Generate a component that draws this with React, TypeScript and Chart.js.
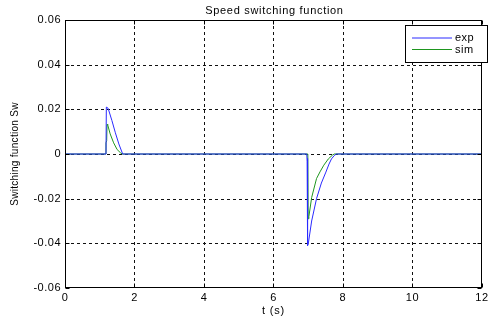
import React, { useEffect, useRef } from "react";
import { Chart, registerables } from "chart.js";

Chart.register(...registerables);

const titleText = "Speed switching function";
const xTitle = "t (s)";
const yTitle = "Switching function Sw";
const seriesNames = ["exp", "sim"];

const xTicks = [0, 2, 4, 6, 8, 10, 12];
const yTicks = [-0.06, -0.04, -0.02, 0, 0.02, 0.04, 0.06];

const expT = [0, 1.18, 1.19, 1.24, 1.35, 1.45, 1.55, 1.66, 6.96, 6.97, 6.98, 6.985, 7.0, 7.1, 7.24, 7.38, 7.51, 7.6, 7.67, 7.75, 7.81, 12];
const expV = [0, 0, 0.021, 0.0205, 0.015, 0.0095, 0.0045, 0, 0, -0.0035, -0.002, -0.041, -0.0405, -0.03, -0.02, -0.013, -0.0081, -0.0045, -0.0022, -0.0007, 0, 0];

const simT = [0, 1.17, 1.18, 1.2, 1.21, 1.23, 1.3, 1.4, 1.5, 1.6, 1.65, 6.99, 7.0, 7.02, 7.1, 7.24, 7.34, 7.45, 7.58, 7.7, 7.75, 12];
const simV = [0, 0, 0.005, 0.006, 0.0133, 0.013, 0.009, 0.005, 0.002, 0.0005, 0, 0, -0.029, -0.028, -0.0195, -0.011, -0.008, -0.005, -0.0022, -0.0005, 0, 0];

const BLUE = "#2a2aff";
const GREEN = "#1e961e";
const FONT = "'Liberation Sans', Arial, sans-serif";

const fmt = (v: number) => {
  const r = Math.round(v * 100) / 100;
  return r === 0 ? "0" : r.toFixed(2);
};

const decor = {
  id: "decor",
  beforeDraw(chart: any) {
    (chart.ctx as any).letterSpacing = "0.5px";
  },
  beforeDatasetsDraw(chart: any) {
    const { ctx, chartArea: a, scales } = chart;
    const xs = scales.x, ys = scales.y;
    ctx.save();
    ctx.strokeStyle = "#111";
    ctx.lineWidth = 1;
    ctx.setLineDash([3, 3]);
    xTicks.forEach((t) => {
      if (t === xTicks[0] || t === xTicks[xTicks.length - 1]) return;
      const x = Math.round(xs.getPixelForValue(t)) + 0.5;
      ctx.beginPath();
      ctx.moveTo(x, a.top);
      ctx.lineTo(x, a.bottom);
      ctx.stroke();
    });
    yTicks.forEach((t) => {
      if (t === yTicks[0] || t === yTicks[yTicks.length - 1]) return;
      const y = Math.round(ys.getPixelForValue(t)) + 0.5;
      ctx.beginPath();
      ctx.moveTo(a.left, y);
      ctx.lineTo(a.right, y);
      ctx.stroke();
    });
    ctx.restore();
  },
  afterDraw(chart: any) {
    const { ctx, chartArea: a, scales } = chart;
    const xs = scales.x, ys = scales.y;
    ctx.save();
    ctx.setLineDash([]);
    ctx.strokeStyle = "#000";
    ctx.lineWidth = 1;
    const L = Math.round(a.left) + 0.5, R = Math.round(a.right) - 0.5;
    const T = Math.round(a.top) + 0.5, B = Math.round(a.bottom) - 0.5;
    ctx.strokeRect(L, T, R - L, B - T);
    xTicks.forEach((t) => {
      const x = Math.round(xs.getPixelForValue(t)) + 0.5;
      ctx.beginPath();
      ctx.moveTo(x, B); ctx.lineTo(x, B - 4);
      ctx.moveTo(x, T); ctx.lineTo(x, T + 4);
      ctx.stroke();
    });
    yTicks.forEach((t) => {
      const y = Math.round(ys.getPixelForValue(t)) + 0.5;
      ctx.beginPath();
      ctx.moveTo(L, y); ctx.lineTo(L + 4, y);
      ctx.moveTo(R, y); ctx.lineTo(R - 4, y);
      ctx.stroke();
    });
    ctx.fillStyle = "#000";
    ctx.font = `11px ${FONT}`;
    ctx.textAlign = "center";
    ctx.textBaseline = "middle";
    (ctx as any).letterSpacing = "0.7px";
    ctx.fillText(titleText, (a.left + a.right) / 2 + 1, 11);
    (ctx as any).letterSpacing = "0.8px";
    ctx.fillText(xTitle, (a.left + a.right) / 2, 311);
    (ctx as any).letterSpacing = "0.3px";
    ctx.save();
    ctx.translate(15, (a.top + a.bottom) / 2);
    ctx.rotate(-Math.PI / 2);
    ctx.font = `10px ${FONT}`;
    ctx.fillText(yTitle, 0, 0);
    ctx.restore();
    const lx = 405.5, ly = 25.5, lw = 82, lh = 37;
    ctx.fillStyle = "#fff";
    ctx.fillRect(lx, ly, lw, lh);
    ctx.strokeStyle = "#000";
    ctx.strokeRect(lx, ly, lw, lh);
    const colors = [BLUE, GREEN];
    (ctx as any).letterSpacing = "0.5px";
    seriesNames.forEach((n, i) => {
      const y = 38 + i * 11.5;
      ctx.strokeStyle = colors[i];
      ctx.beginPath();
      ctx.moveTo(412, y);
      ctx.lineTo(452, y);
      ctx.stroke();
      ctx.fillStyle = "#000";
      ctx.textAlign = "left";
      ctx.font = `11px ${FONT}`;
      ctx.fillText(n, 455, y);
    });
    ctx.restore();
  },
};

export default function App() {
  const ref = useRef<HTMLCanvasElement | null>(null);
  useEffect(() => {
    if (!ref.current) return;
    const chart = new Chart(ref.current, {
      type: "line",
      data: {
        datasets: [
          {
            label: seriesNames[0],
            data: expT.map((t, i) => ({ x: t, y: expV[i] })),
            borderColor: BLUE,
            borderWidth: 1,
            pointRadius: 0,
            tension: 0,
          },
          {
            label: seriesNames[1],
            data: simT.map((t, i) => ({ x: t, y: simV[i] })),
            borderColor: GREEN,
            borderWidth: 1,
            pointRadius: 0,
            tension: 0,
          },
        ],
      },
      options: {
        responsive: false,
        animation: false,
        layout: { padding: { top: 20, right: 3, left: 0, bottom: 0 } },
        plugins: { legend: { display: false }, title: { display: false }, tooltip: { enabled: false } },
        scales: {
          x: {
            type: "linear",
            min: 0,
            max: 12,
            grid: { display: false, drawTicks: false },
            border: { display: false },
            afterBuildTicks: (s: any) => { s.ticks = xTicks.map((v) => ({ value: v })); },
            afterFit: (s: any) => { s.height = 32; },
            ticks: {
              padding: 3,
              maxRotation: 0,
              autoSkip: false,
              color: "#000",
              font: { family: FONT, size: 11 },
              callback: (v: any) => String(v),
            },
          },
          y: {
            type: "linear",
            min: -0.06,
            max: 0.06,
            grid: { display: false, drawTicks: false },
            border: { display: false },
            afterBuildTicks: (s: any) => { s.ticks = yTicks.map((v) => ({ value: v })); },
            afterFit: (s: any) => { s.width = 65; },
            ticks: {
              padding: 4,
              autoSkip: false,
              color: "#000",
              font: { family: FONT, size: 11 },
              callback: (v: any) => fmt(Number(v)),
            },
          },
        },
      },
      plugins: [decor],
    } as any);
    return () => chart.destroy();
  }, []);
  return (
    <div style={{ position: "absolute", left: 0, top: 0, width: 491, height: 320, background: "#fff" }}>
      <canvas ref={ref} width={491} height={320} style={{ width: 491, height: 320 }} />
    </div>
  );
}
